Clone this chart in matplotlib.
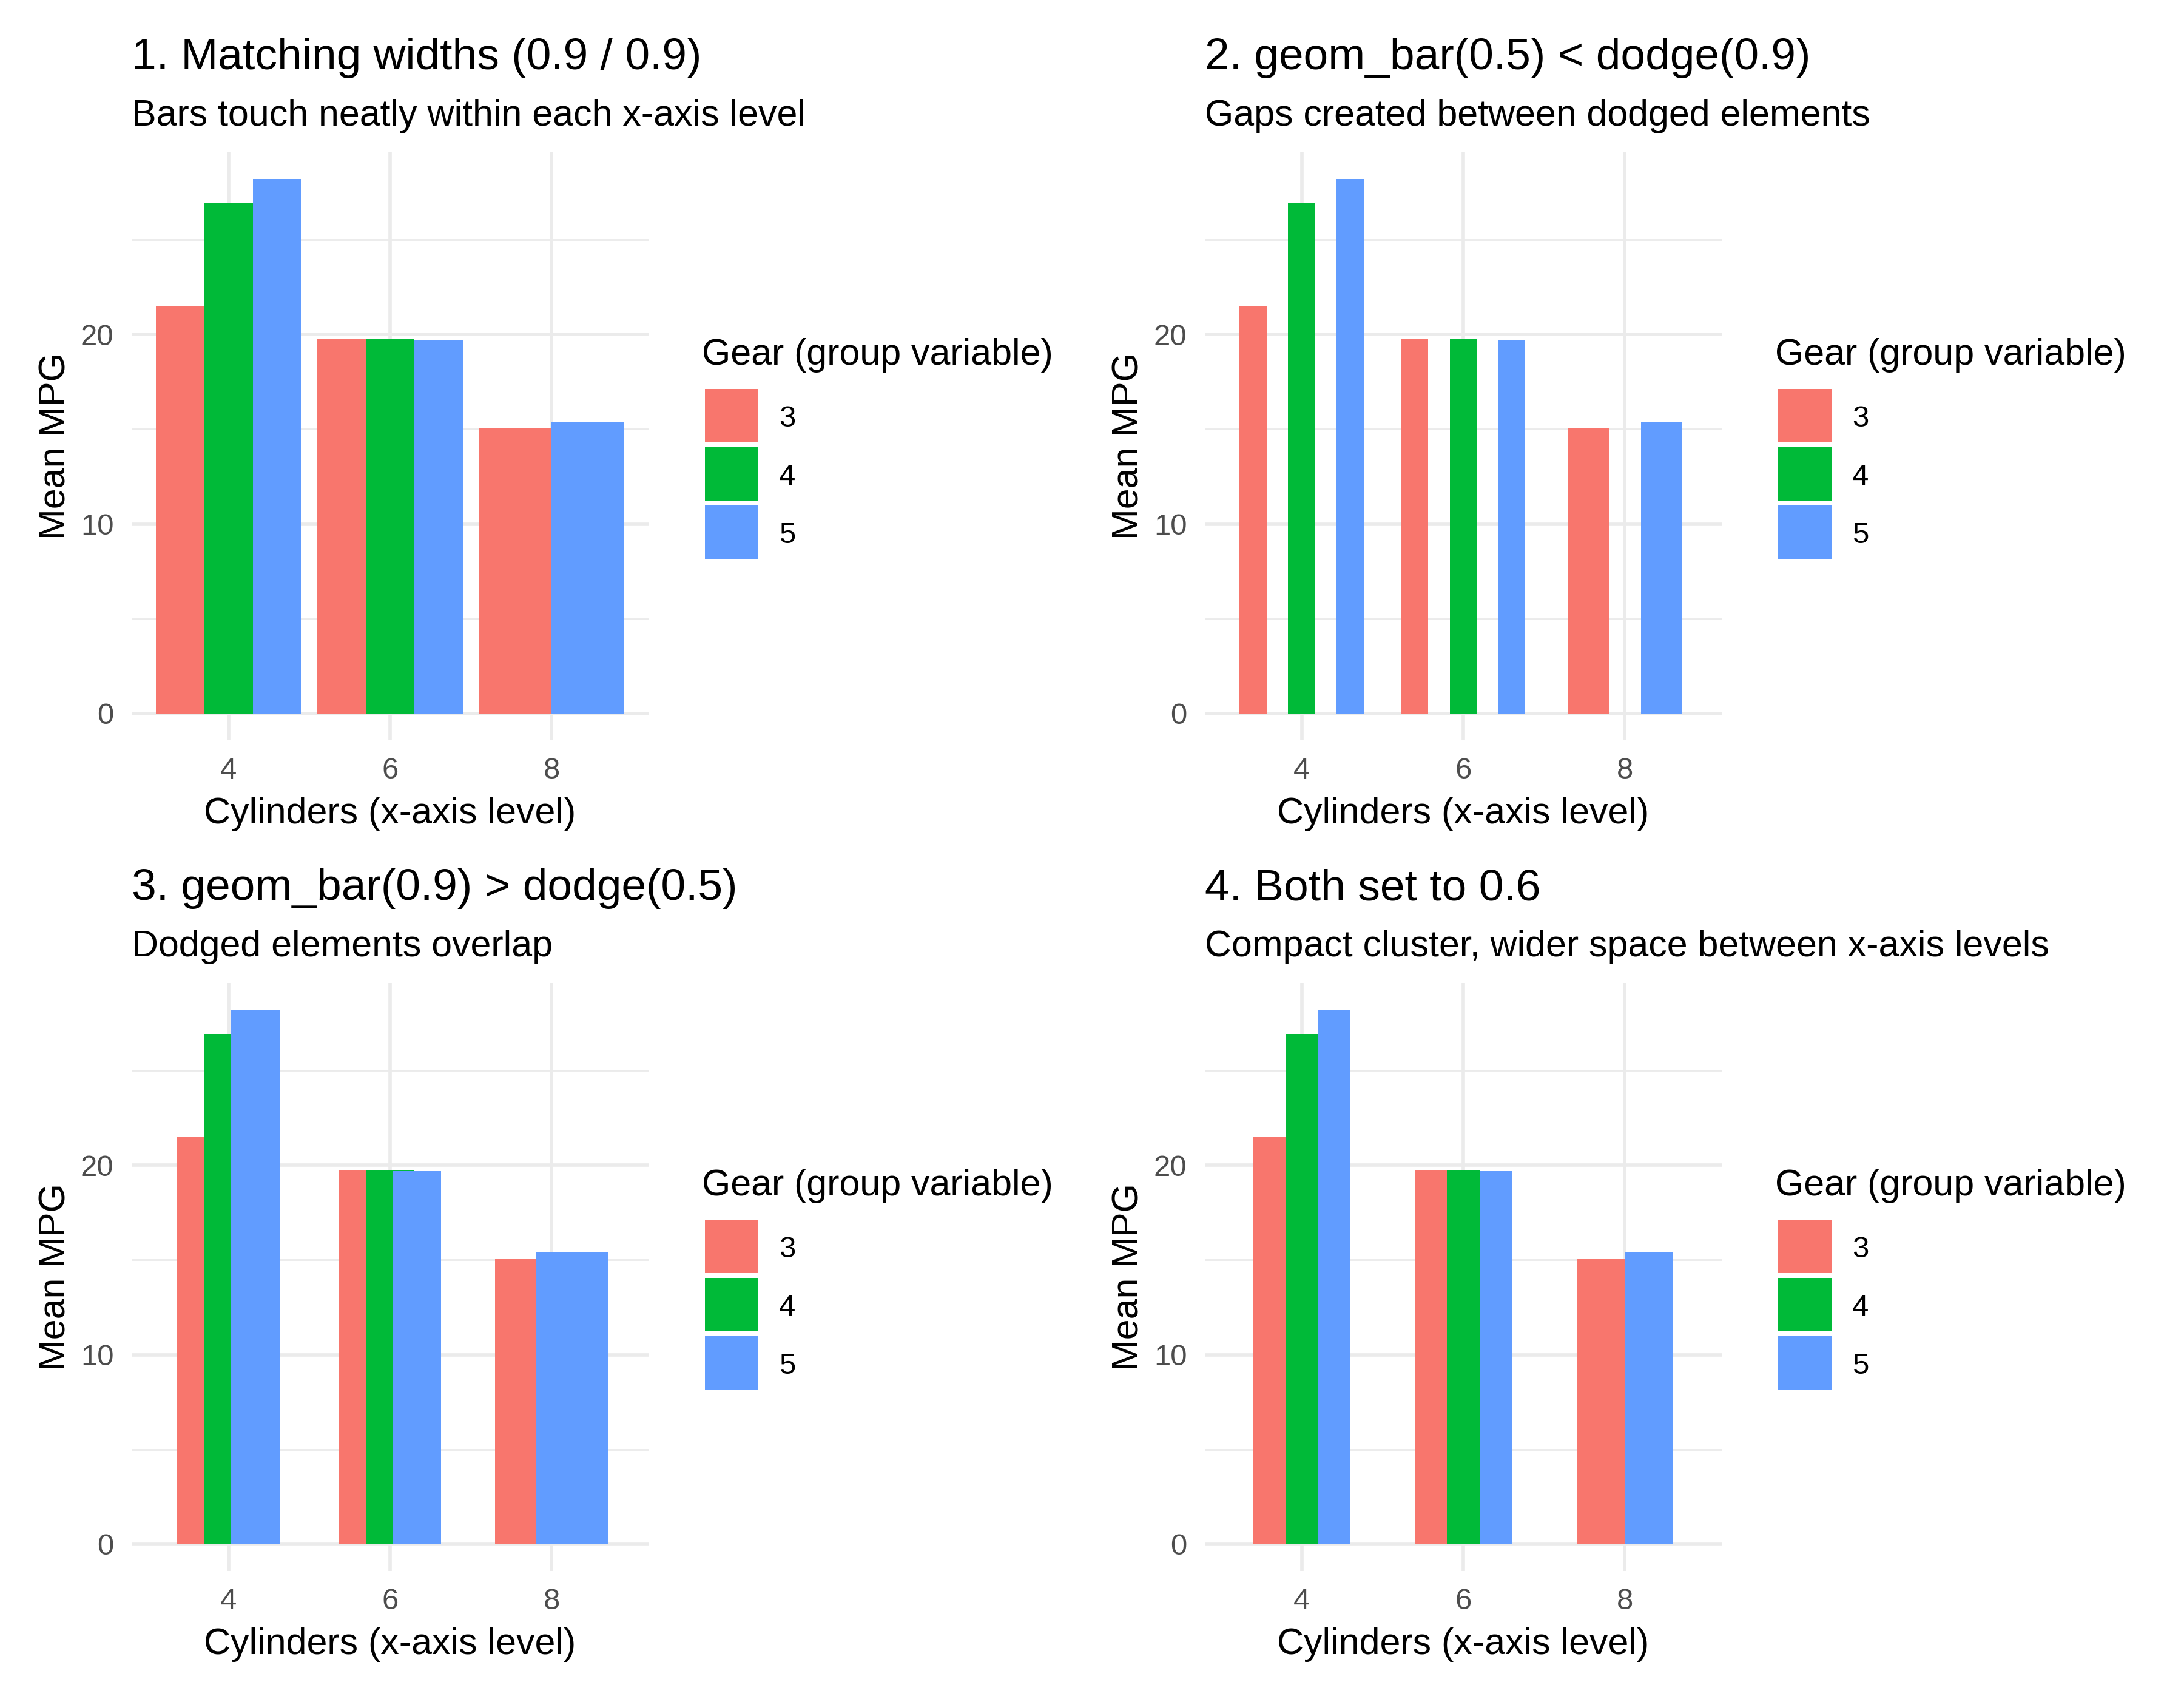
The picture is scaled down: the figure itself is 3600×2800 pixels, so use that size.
import matplotlib
matplotlib.use("Agg")
import matplotlib.pyplot as plt
from matplotlib.patches import Rectangle

plt.rcParams['font.family'] = ['Liberation Sans', 'DejaVu Sans']

# ---------------- data (mtcars: mean mpg by cyl x gear) ----------------
cyl_levels = ['4', '6', '8']
gear_levels = ['3', '4', '5']
mpg_gear3 = [21.5, 19.75, 15.05]
mpg_gear4 = [26.925, 19.75, None]   # no 8-cylinder car with 4 gears
mpg_gear5 = [28.2, 19.7, 15.4]
series = [mpg_gear3, mpg_gear4, mpg_gear5]
gear_colors = ['#F8766D', '#00BA38', '#619CFF']

panel_titles = ['1. Matching widths (0.9 / 0.9)',
                '2. geom_bar(0.5) < dodge(0.9)',
                '3. geom_bar(0.9) > dodge(0.5)',
                '4. Both set to 0.6']
panel_subtitles = ['Bars touch neatly within each x-axis level',
                   'Gaps created between dodged elements',
                   'Dodged elements overlap',
                   'Compact cluster, wider space between x-axis levels']
bar_widths = [0.9, 0.5, 0.9, 0.6]
dodge_widths = [0.9, 0.9, 0.5, 0.6]
y_ticks = [0, 10, 20]
y_minor = [5, 15, 25]

# ---------------- layout (pixels of a 3600x2800 canvas) ----------------
W, H = 3600, 2800
fig = plt.figure(figsize=(W / 300, H / 300), dpi=300)
fig.patch.set_facecolor('white')

def fx(px):
    return px / W

def fy(py):
    return 1 - py / H

AX_L, AX_R, AX_T, AX_B = 216.7, 1069.3, 251.0, 1220.0
COL_OFF, ROW_OFF = 1769.0, 1369.0

TITLE_FS = 17.55
TEXT_FS = 14.62
TICK_FS = 11.8
GRID = '#EBEBEB'
TICK_COL = '#4D4D4D'

ymax = max(v for s in series for v in s if v is not None)
ylim = (-0.05 * ymax, ymax * 1.05)

for p in range(4):
    c, r = p % 2, p // 2
    ox, oy = c * COL_OFF, r * ROW_OFF
    ax = fig.add_axes([fx(AX_L + ox), fy(AX_B + oy),
                       (AX_R - AX_L) / W, (AX_B - AX_T) / H])
    ax.set_facecolor('white')
    for s in ax.spines.values():
        s.set_visible(False)

    bw, dw = bar_widths[p], dodge_widths[p]
    # ggplot2 position_dodge: n = number of groups present at each x
    for gi, vals in enumerate(series):
        xs, hs, ws = [], [], []
        for xi, v in enumerate(vals):
            if v is None:
                continue
            present = [k for k in range(len(series)) if series[k][xi] is not None]
            n = len(present)
            idx = present.index(gi) + 1
            xs.append((xi + 1) + dw * ((idx - 0.5) / n - 0.5))
            ws.append(bw / n)
            hs.append(v)
        ax.bar(xs, hs, width=ws, color=gear_colors[gi], linewidth=0, zorder=3)

    ax.set_xlim(0.4, len(cyl_levels) + 0.6)
    ax.set_ylim(*ylim)
    ax.set_xticks(range(1, len(cyl_levels) + 1))
    ax.set_xticklabels(cyl_levels)
    ax.set_yticks(y_ticks)
    ax.set_yticks(y_minor, minor=True)
    ax.grid(which='major', color=GRID, linewidth=1.36, zorder=0)
    ax.grid(which='minor', axis='y', color=GRID, linewidth=0.68, zorder=0)
    ax.set_axisbelow(True)
    ax.tick_params(which='both', length=0, labelsize=TICK_FS, labelcolor=TICK_COL)
    ax.tick_params(axis='y', pad=7.05)
    ax.tick_params(axis='x', pad=6.7)

    # titles
    fig.text(fx(AX_L + ox), fy(114 + oy), panel_titles[p], fontsize=TITLE_FS,
             ha='left', va='baseline', color='black')
    fig.text(fx(AX_L + ox), fy(206.5 + oy), panel_subtitles[p], fontsize=TEXT_FS,
             ha='left', va='baseline', color='black')
    # axis titles
    fig.text(fx((AX_L + AX_R) / 2 + ox), fy(1356.7 + oy), 'Cylinders (x-axis level)',
             fontsize=TEXT_FS, ha='center', va='baseline', color='black')
    fig.text(fx(107.3 + ox), fy((AX_T + AX_B) / 2 + oy), 'Mean MPG', fontsize=TEXT_FS,
             rotation=90, rotation_mode='anchor', ha='center', va='baseline',
             color='black')

    # legend
    fig.text(fx(1157 + ox), fy(600.7 + oy), 'Gear (group variable)', fontsize=TEXT_FS,
             ha='left', va='baseline', color='black')
    for gi, lab in enumerate(gear_levels):
        top = 641 + gi * 96 + oy
        fig.add_artist(Rectangle((fx(1162 + ox), fy(top + 88)), 88 / W, 88 / H,
                                 transform=fig.transFigure, facecolor=gear_colors[gi],
                                 edgecolor='none', linewidth=0))
        fig.text(fx(1284 + ox), fy(top + 44 + 17.6), lab, fontsize=TICK_FS,
                 ha='left', va='baseline', color='black')

fig.savefig('out.png', dpi=300, facecolor='white')
